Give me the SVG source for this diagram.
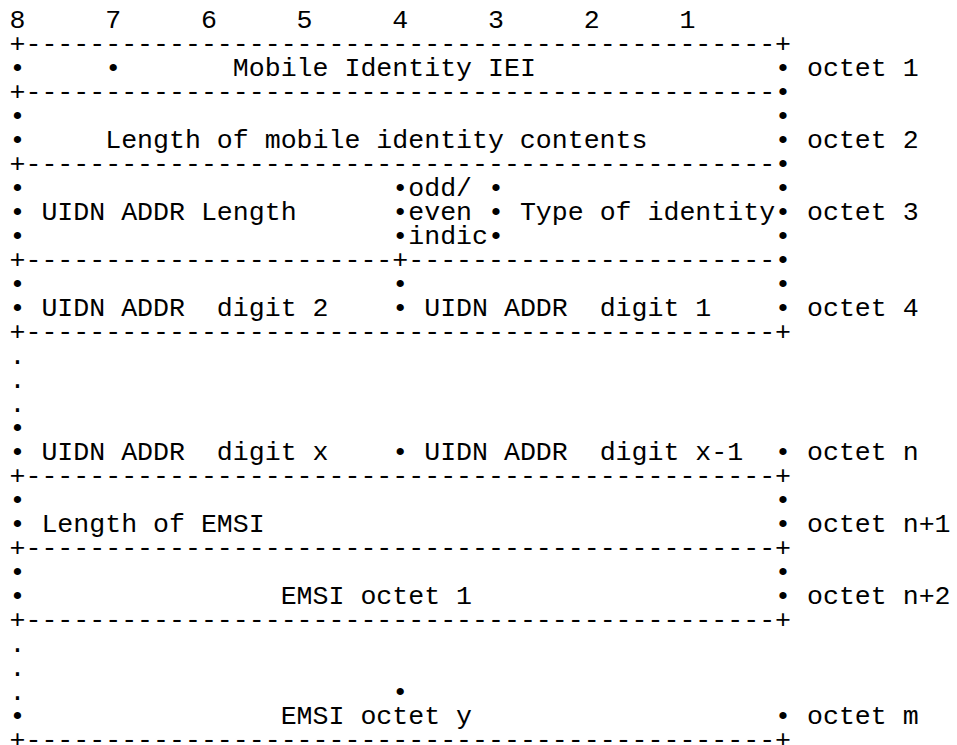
<svg xmlns="http://www.w3.org/2000/svg" width="957" height="745" viewBox="0 0 957 745" xml:space="preserve">
  <style>
    /* monospace grid: 15.95px per column, 24px per line, column 0 starts at x=9.5 */
    text { font-family: "Liberation Mono", "Courier New", "DejaVu Sans Mono", monospace; font-size: 26.58px; fill: #000; white-space: pre; }
  </style>
  <rect width="957" height="745" fill="#fff"/>

  <!-- bit numbers -->
  <g id="bit-numbers">
    <text y="28"><tspan x="9.5">8</tspan><tspan x="105.2">7</tspan><tspan x="200.9">6</tspan><tspan x="296.6">5</tspan><tspan x="392.3">4</tspan><tspan x="488">3</tspan><tspan x="583.7">2</tspan><tspan x="679.4">1</tspan></text>
  </g>

  <!-- horizontal rules of the field table -->
  <g id="rules">
    <text y="52" x="9.5">+-----------------------------------------------+</text>
    <text y="100"><tspan x="9.5">+-----------------------------------------------</tspan><tspan x="775.1">•</tspan></text>
    <text y="172"><tspan x="9.5">+-----------------------------------------------</tspan><tspan x="775.1">•</tspan></text>
    <text y="268"><tspan x="9.5">+-----------------------+-----------------------</tspan><tspan x="775.1">•</tspan></text>
    <text y="340" x="9.5">+-----------------------------------------------+</text>
    <text y="484" x="9.5">+-----------------------------------------------+</text>
    <text y="556" x="9.5">+-----------------------------------------------+</text>
    <text y="628" x="9.5">+-----------------------------------------------+</text>
    <text y="748" x="9.5">+-----------------------------------------------+</text>
  </g>

  <!-- octet 1: Mobile Identity IEI -->
  <g id="octet-1">
    <text y="76"><tspan x="9.5">•</tspan><tspan x="105.2">•</tspan><tspan x="232.8">Mobile Identity IEI</tspan><tspan x="775.1">•</tspan><tspan x="807">octet 1</tspan></text>
  </g>

  <!-- octet 2: length of contents -->
  <g id="octet-2">
    <text y="124"><tspan x="9.5">•</tspan><tspan x="775.1">•</tspan></text>
    <text y="148"><tspan x="9.5">•</tspan><tspan x="105.2">Length of mobile identity contents</tspan><tspan x="775.1">•</tspan><tspan x="807">octet 2</tspan></text>
  </g>

  <!-- octet 3: UIDN ADDR length, odd/even indicator, type of identity -->
  <g id="octet-3">
    <text y="196"><tspan x="9.5">•</tspan><tspan x="392.3">•</tspan><tspan x="408.25">odd/</tspan><tspan x="488">•</tspan><tspan x="775.1">•</tspan></text>
    <text y="220"><tspan x="9.5">•</tspan><tspan x="41.4">UIDN ADDR Length</tspan><tspan x="392.3">•</tspan><tspan x="408.25">even</tspan><tspan x="488">•</tspan><tspan x="519.9">Type of identity</tspan><tspan x="775.1">•</tspan><tspan x="807">octet 3</tspan></text>
    <text y="244"><tspan x="9.5">•</tspan><tspan x="392.3">•</tspan><tspan x="408.25">indic</tspan><tspan x="488">•</tspan><tspan x="775.1">•</tspan></text>
  </g>

  <!-- octet 4: first two address digits -->
  <g id="octet-4">
    <text y="292"><tspan x="9.5">•</tspan><tspan x="392.3">•</tspan><tspan x="775.1">•</tspan></text>
    <text y="316"><tspan x="9.5">•</tspan><tspan x="41.4">UIDN ADDR  digit 2</tspan><tspan x="392.3">•</tspan><tspan x="424.2">UIDN ADDR  digit 1</tspan><tspan x="775.1">•</tspan><tspan x="807">octet 4</tspan></text>
  </g>

  <!-- octet n: last two address digits -->
  <g id="octet-n">
    <text y="364" x="9.5">.</text>
    <text y="388" x="9.5">.</text>
    <text y="412" x="9.5">.</text>
    <text y="436" x="9.5">•</text>
    <text y="460"><tspan x="9.5">•</tspan><tspan x="41.4">UIDN ADDR  digit x</tspan><tspan x="392.3">•</tspan><tspan x="424.2">UIDN ADDR  digit x-1</tspan><tspan x="775.1">•</tspan><tspan x="807">octet n</tspan></text>
  </g>

  <!-- octet n+1: length of EMSI -->
  <g id="octet-n1">
    <text y="508"><tspan x="9.5">•</tspan><tspan x="775.1">•</tspan></text>
    <text y="532"><tspan x="9.5">•</tspan><tspan x="41.4">Length of EMSI</tspan><tspan x="775.1">•</tspan><tspan x="807">octet n+1</tspan></text>
  </g>

  <!-- octet n+2: first EMSI octet -->
  <g id="octet-n2">
    <text y="580"><tspan x="9.5">•</tspan><tspan x="775.1">•</tspan></text>
    <text y="604"><tspan x="9.5">•</tspan><tspan x="280.65">EMSI octet 1</tspan><tspan x="775.1">•</tspan><tspan x="807">octet n+2</tspan></text>
  </g>

  <!-- octet m: last EMSI octet -->
  <g id="octet-m">
    <text y="652" x="9.5">.</text>
    <text y="676" x="9.5">.</text>
    <text y="700"><tspan x="9.5">.</tspan><tspan x="392.3">•</tspan></text>
    <text y="724"><tspan x="9.5">•</tspan><tspan x="280.65">EMSI octet y</tspan><tspan x="775.1">•</tspan><tspan x="807">octet m</tspan></text>
  </g>
</svg>
